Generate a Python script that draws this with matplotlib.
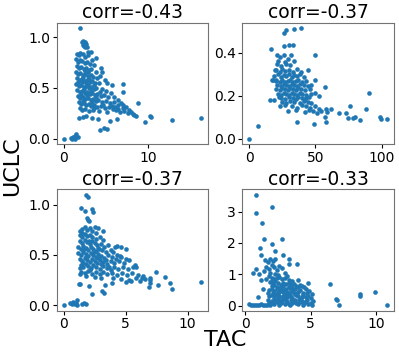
import numpy as np
import matplotlib
matplotlib.use("Agg")
import matplotlib.pyplot as plt

# panel titles
titles = ["corr=-0.43", "corr=-0.37", "corr=-0.37", "corr=-0.33"]

# TAC / UCLC pairs
p1 = [(2.0,1.09),(2.2,0.95),(2.35,0.96),(2.5,0.94),(2.6,0.95),(2.3,0.92),(2.7,0.93),(2.45,0.91),(2.8,0.9),(2.5,0.9),(2.9,0.85),
      (1.6,0.83),(1.8,0.82),(2.0,0.84),(2.3,0.83),(2.6,0.81),(2.9,0.82),(3.2,0.85),(3.9,0.8),(3.4,0.78),
      (1.5,0.79),(1.7,0.76),(1.9,0.78),(2.2,0.77),(2.5,0.75),(2.8,0.76),(3.1,0.74),(3.6,0.73),
      (4.4,0.70),(4.5,0.66),(4.3,0.62),
      (1.6,0.72),(1.8,0.70),(2.1,0.71),(2.4,0.69),(2.7,0.70),(3.0,0.68),(3.3,0.69),(3.8,0.66),
      (1.5,0.66),(1.7,0.64),(2.0,0.65),(2.3,0.63),(2.6,0.64),(2.9,0.62),(3.2,0.63),(3.5,0.61),(4.0,0.60),
      (1.6,0.60),(1.9,0.58),(2.2,0.59),(2.5,0.57),(2.8,0.58),(3.1,0.56),(3.4,0.57),(3.7,0.55),(4.2,0.55),
      (1.5,0.54),(1.8,0.52),(2.1,0.53),(2.4,0.51),(2.7,0.52),(3.0,0.50),(3.3,0.51),(3.6,0.49),(3.9,0.50),(4.5,0.49),(5.0,0.47),
      (1.6,0.48),(1.9,0.46),(2.2,0.47),(2.5,0.45),(2.8,0.46),(3.1,0.44),(3.4,0.45),(3.7,0.43),(4.0,0.44),(4.4,0.42),(4.8,0.43),(5.3,0.41),
      (1.7,0.42),(2.0,0.40),(2.3,0.41),(2.6,0.39),(2.9,0.40),(3.2,0.38),(3.5,0.39),(3.8,0.37),(4.1,0.38),(4.6,0.36),(5.0,0.37),(5.5,0.35),(6.0,0.36),
      (1.8,0.36),(2.1,0.34),(2.4,0.35),(2.7,0.33),(3.0,0.34),(3.3,0.32),(3.6,0.33),(4.0,0.31),(4.4,0.32),(4.9,0.30),(5.4,0.31),(5.9,0.29),(6.4,0.33),(6.8,0.35),(7.1,0.33),(7.4,0.31),
      (1.9,0.30),(2.2,0.28),(2.6,0.29),(3.0,0.27),(3.5,0.28),(4.2,0.27),(5.2,0.26),(6.2,0.28),(6.7,0.26),(7.2,0.27),(7.6,0.25),(8.0,0.26),(8.3,0.23),(8.6,0.22),
      (5.7,0.53),(5.2,0.55),(4.9,0.58),(7.06,0.54),(7.06,0.46),(8.8,0.35),
      (8.2,0.24),(10.2,0.22),(10.4,0.21),(9.6,0.16),(12.8,0.18),(16.3,0.20),
      (1.84,0.20),(4.3,0.09),(4.8,0.11),(5.2,0.10),(5.5,0.17),(6.3,0.19),(4.1,0.19),(3.4,0.20),(2.7,0.22),(2.3,0.21),
      (0.0,0.0),(0.9,0.01),(1.1,0.02),(1.2,0.01),(1.4,0.03),(1.5,0.05),(1.7,0.02),(1.3,0.0),(1.0,0.0),
      (2.15,0.56),(2.35,0.61),(2.65,0.55),(2.95,0.53),(2.45,0.49),(2.75,0.43),(3.25,0.47),(3.55,0.53),(2.05,0.43),(3.05,0.59),
      (2.55,0.67),(2.85,0.66),(3.35,0.36),(3.85,0.41),(4.35,0.46),(1.75,0.56),(2.25,0.37),(3.65,0.30),(4.7,0.33),(5.7,0.32),
      (6.1,0.31),(6.5,0.29),(7.0,0.30),(7.8,0.28),(5.6,0.45),(6.0,0.41),(6.5,0.38)]

p2 = [(27.4,0.508),(26.4,0.49),(33.7,0.512),(38.9,0.515),(16.1,0.418),(26.4,0.43),(30.2,0.437),(33.2,0.435),(49.5,0.389),
      (44.5,0.32),(49.8,0.272),(57.0,0.242),(52.8,0.198),(90.2,0.211),(88.0,0.137),(76.4,0.152),(72.9,0.118),(67.6,0.118),
      (62.1,0.137),(58.3,0.14),(59.0,0.126),(57.0,0.10),(58.3,0.08),(49.0,0.068),(35.7,0.077),(74.6,0.095),(78.4,0.095),
      (79.6,0.10),(83.9,0.088),(98.5,0.10),(99.7,0.091),(104.0,0.091),(6.8,0.057),(0.0,0.0),(15.6,0.18),(18.8,0.18),(22.6,0.192),
      (20.6,0.39),(23,0.38),(26,0.39),(29,0.37),(31.5,0.39),(22,0.36),(27,0.355),(18.1,0.275),(20.1,0.275),(19.3,0.318),
      (21,0.35),(24,0.34),(28,0.35),(31,0.345),(34,0.36),
      (20,0.32),(23,0.31),(25,0.325),(27,0.315),(30,0.32),(33,0.31),(36,0.325),(39,0.31),
      (19,0.29),(22,0.3),(24,0.285),(26,0.295),(28,0.29),(30,0.3),(32,0.285),(34,0.295),(36,0.29),(38,0.3),(41,0.285),
      (17,0.275),(20,0.27),(23,0.265),(25,0.275),(27,0.265),(29,0.27),(31,0.275),(33,0.265),(35,0.27),(37,0.275),(40,0.265),(43,0.27),
      (21,0.25),(24,0.245),(26,0.255),(28,0.25),(30,0.245),(32,0.255),(34,0.25),(36,0.245),(38,0.255),(41,0.25),(44,0.245),(47,0.25),
      (20,0.23),(23,0.225),(25,0.235),(27,0.23),(29,0.225),(31,0.235),(33,0.23),(35,0.225),(37,0.235),(39,0.23),(42,0.225),(46,0.23),
      (22,0.21),(24,0.205),(26,0.215),(28,0.21),(30,0.205),(32,0.215),(34,0.21),(36,0.205),(38,0.215),(40,0.21),(43,0.205),(47,0.21),(50,0.215),
      (24,0.19),(27,0.185),(30,0.195),(33,0.19),(35,0.185),(37,0.195),(40,0.19),(42,0.185),(45,0.195),(43.2,0.188),
      (25,0.17),(28,0.165),(31,0.175),(34,0.17),(38,0.165),(41,0.175),(44,0.17),(47,0.165),
      (23,0.15),(27,0.155),(32,0.15),(36,0.145),(40,0.155),(43,0.15),(46,0.145),(50,0.15),(53,0.14),
      (29,0.13),(35,0.135),(42,0.125),(45,0.135),(48,0.13),(51,0.12),(54,0.13)]

p3 = [(1.81,1.10),(2.0,1.075),(1.41,0.967),(2.32,0.957),(2.35,0.925),(1.73,0.934),(1.87,0.87),(1.95,0.85),(2.08,0.836),
      (2.53,0.777),(2.8,0.77),(3.2,0.74),(4.27,0.59),(4.13,0.574),(4.67,0.574),(5.0,0.557),(4.0,0.525),(4.53,0.49),
      (5.73,0.40),(5.87,0.384),(5.25,0.452),(6.4,0.295),(6.93,0.252),(7.0,0.223),(7.47,0.334),(8.19,0.285),(7.6,0.197),
      (6.88,0.177),(8.61,0.22),(8.77,0.16),(11.09,0.23),(5.07,0.23),(5.47,0.236),(3.92,0.223),(3.33,0.197),(3.07,0.138),
      (3.28,0.125),(2.27,0.115),(2.08,0.19),(1.33,0.213),(1.25,0.21),
      (0.0,0.0),(0.55,0.02),(0.7,0.015),(0.8,0.03),(0.9,0.01),(1.0,0.02),(1.1,0.0),(1.07,0.05),(1.5,0.01),(1.65,0.02),(1.8,0.01),
      (1.3,0.74),(1.5,0.76),(1.7,0.78),(1.9,0.75),(2.1,0.77),(2.3,0.74),(2.6,0.72),
      (1.3,0.70),(1.5,0.68),(1.7,0.71),(1.9,0.69),(2.1,0.7),(2.3,0.68),(2.6,0.66),(2.9,0.68),(3.2,0.65),
      (1.3,0.64),(1.5,0.62),(1.7,0.65),(1.9,0.63),(2.1,0.61),(2.3,0.64),(2.5,0.62),(2.7,0.6),(3.0,0.61),(3.3,0.58),(3.6,0.6),
      (1.2,0.58),(1.4,0.56),(1.6,0.59),(1.8,0.57),(2.0,0.55),(2.2,0.58),(2.4,0.56),(2.6,0.54),(2.8,0.57),(3.1,0.55),(3.4,0.53),(3.8,0.55),
      (1.2,0.52),(1.4,0.5),(1.6,0.53),(1.8,0.51),(2.0,0.49),(2.2,0.52),(2.4,0.5),(2.6,0.48),(2.8,0.51),(3.0,0.49),(3.3,0.47),(3.6,0.5),(3.9,0.48),(4.3,0.5),
      (1.3,0.46),(1.5,0.44),(1.7,0.47),(1.9,0.45),(2.1,0.43),(2.3,0.46),(2.5,0.44),(2.7,0.42),(2.9,0.45),(3.2,0.43),(3.5,0.41),(3.8,0.44),(4.1,0.42),(4.5,0.44),(4.9,0.42),
      (1.4,0.4),(1.6,0.38),(1.8,0.41),(2.0,0.39),(2.2,0.37),(2.4,0.4),(2.6,0.38),(2.9,0.36),(3.2,0.39),(3.5,0.37),(3.8,0.35),(4.1,0.38),(4.4,0.36),(4.8,0.38),(5.2,0.36),(5.6,0.38),
      (1.4,0.33),(1.7,0.32),(2.0,0.34),(2.3,0.31),(2.6,0.33),(2.9,0.31),(3.2,0.33),(3.5,0.31),(3.9,0.32),(4.3,0.3),(4.7,0.32),(5.1,0.3),(5.5,0.32),(6.0,0.3),(6.3,0.27),
      (1.3,0.31),(1.8,0.29),(2.5,0.28),(3.0,0.27),(4.0,0.27),(4.6,0.26),(5.3,0.25),(5.8,0.27),(6.2,0.24),(6.6,0.26),(7.0,0.27),
      (1.45,0.72),(1.65,0.56),(1.85,0.48),(2.05,0.64),(2.45,0.53),(2.75,0.47),(3.05,0.41),(1.55,0.42),(2.15,0.35),(2.85,0.56),
      (3.4,0.45),(1.35,0.37),(3.7,0.38),(4.2,0.46),(4.6,0.48),(5.0,0.46)]

p4 = [(0.78,3.54),(0.78,2.94),(2.05,3.14),(1.28,2.64),(1.44,2.13),(2.0,1.98),(2.81,2.14),(2.25,1.76),(1.11,1.84),(1.19,1.63),
      (2.89,1.63),(3.35,1.49),(3.35,1.32),(3.98,1.34),(0.85,1.18),(0.55,1.03),(1.03,1.0),(1.16,0.82),(1.31,0.55),(0.98,0.28),
      (4.03,0.81),(4.8,0.72),(4.36,0.63),(6.45,0.71),(6.96,0.23),(7.0,0.19),(7.2,0.02),(8.77,0.37),(8.8,0.32),(9.94,0.44),(10.83,0.02),
      (0.3,0.05),(0.45,0.03),(0.6,0.04),(0.75,0.02),(0.9,0.04),(1.05,0.03),(1.2,0.05),(1.35,0.02),(1.5,0.04),(1.65,0.03),
      (1.5,1.45),(1.7,1.38),(1.9,1.5),(2.1,1.42),(2.3,1.48),(1.6,1.25),(1.8,1.18),(2.0,1.3),(2.2,1.22),(2.4,1.15),(2.6,1.28),
      (2.8,1.2),(3.0,1.05),(1.4,1.1),(1.9,1.05),(2.3,1.02),(2.5,0.98),(3.2,0.95),
      (1.8,0.95),(2.0,0.9),(2.2,0.85),(2.4,0.88),(2.6,0.92),(2.8,0.84),(3.0,0.88),(3.3,0.82),(1.6,0.86),(3.6,0.78),
      (1.9,0.75),(2.1,0.7),(2.3,0.78),(2.5,0.72),(2.7,0.66),(2.9,0.74),(3.1,0.68),(3.3,0.72),(3.5,0.65),(3.7,0.7),(3.9,0.62),
      (4.2,0.67),(4.5,0.6),(2.0,0.62),(2.4,0.6),
      (1.8,0.5),(2.0,0.55),(2.2,0.48),(2.4,0.52),(2.6,0.45),(2.8,0.55),(3.0,0.5),(3.2,0.44),(3.4,0.56),(3.6,0.48),(3.8,0.53),
      (4.0,0.45),(4.2,0.5),(4.4,0.42),(4.6,0.55),(4.9,0.47),
      (1.8,0.3),(2.0,0.35),(2.2,0.25),(2.4,0.38),(2.6,0.3),(2.8,0.22),(3.0,0.36),(3.2,0.28),(3.4,0.33),(3.6,0.24),(3.8,0.38),
      (4.0,0.3),(4.2,0.22),(4.4,0.35),(4.6,0.27),(4.8,0.32),(5.0,0.25),(5.1,0.38),
      (1.8,0.1),(1.9,0.02),(2.0,0.15),(2.2,0.05),(2.4,0.12),(2.6,0.03),(2.8,0.16),(3.0,0.07),(3.2,0.13),(3.4,0.02),(3.6,0.1),
      (3.8,0.17),(4.0,0.05),(4.2,0.12),(4.4,0.03),(4.6,0.14),(4.8,0.06),(5.0,0.1),(5.2,0.15),(2.1,0.08),(2.7,0.09),(3.3,0.06),
      (3.9,0.1),(4.5,0.08),(5.1,0.03),
      (2.1,0.42),(2.5,0.4),(2.9,0.43),(3.1,0.2),(3.5,0.18),(3.7,0.42),(4.1,0.18),(2.3,0.2),(2.7,0.5),(3.3,0.6),(1.7,0.4),(1.7,0.2),
      (2.2,0.65),(2.6,0.58),(2.9,0.62),(3.1,0.55),(3.5,0.52),(3.9,0.35),(4.3,0.28),(4.7,0.4),(2.5,0.25),(2.9,0.3),(3.3,0.4),
      (3.7,0.15),(4.3,0.15),(4.7,0.2),(2.3,0.33),(3.1,0.33),(3.5,0.28),(2.6,0.15),(3.0,0.22),(4.0,0.6),(3.6,0.58),(2.0,0.8)]

panels = [p1, p2, p3, p4]
xticks = [[0, 10], [0, 50, 100], [0, 5, 10], [0, 5, 10]]
yticks = [[0.0, 0.5, 1.0], [0.0, 0.2, 0.4], [0.0, 0.5, 1.0], [0, 1, 2, 3]]

fig, axes = plt.subplots(2, 2, figsize=(3.99, 3.58), dpi=100)
fig.subplots_adjust(left=0.142, right=0.987, top=0.937, bottom=0.132, wspace=0.227, hspace=0.368)

for ax, pts, t, xt, yt in zip(axes.flat, panels, titles, xticks, yticks):
    d = np.array(pts)
    ax.scatter(d[:, 0], d[:, 1], s=11, color="#1f77b4", linewidths=0)
    ax.set_title(t, fontsize=13.5, pad=3)
    ax.set_xticks(xt)
    ax.set_yticks(yt)
    ax.tick_params(labelsize=10, length=3, pad=1.5)
    for sp in ax.spines.values():
        sp.set_color("0.45")

fig.text(0.03, 0.535, "UCLC", rotation=90, fontsize=16, ha="center", va="center")
fig.text(0.564, 0.05, "TAC", fontsize=16, ha="center", va="center")

fig.savefig("out.png", dpi=100)
